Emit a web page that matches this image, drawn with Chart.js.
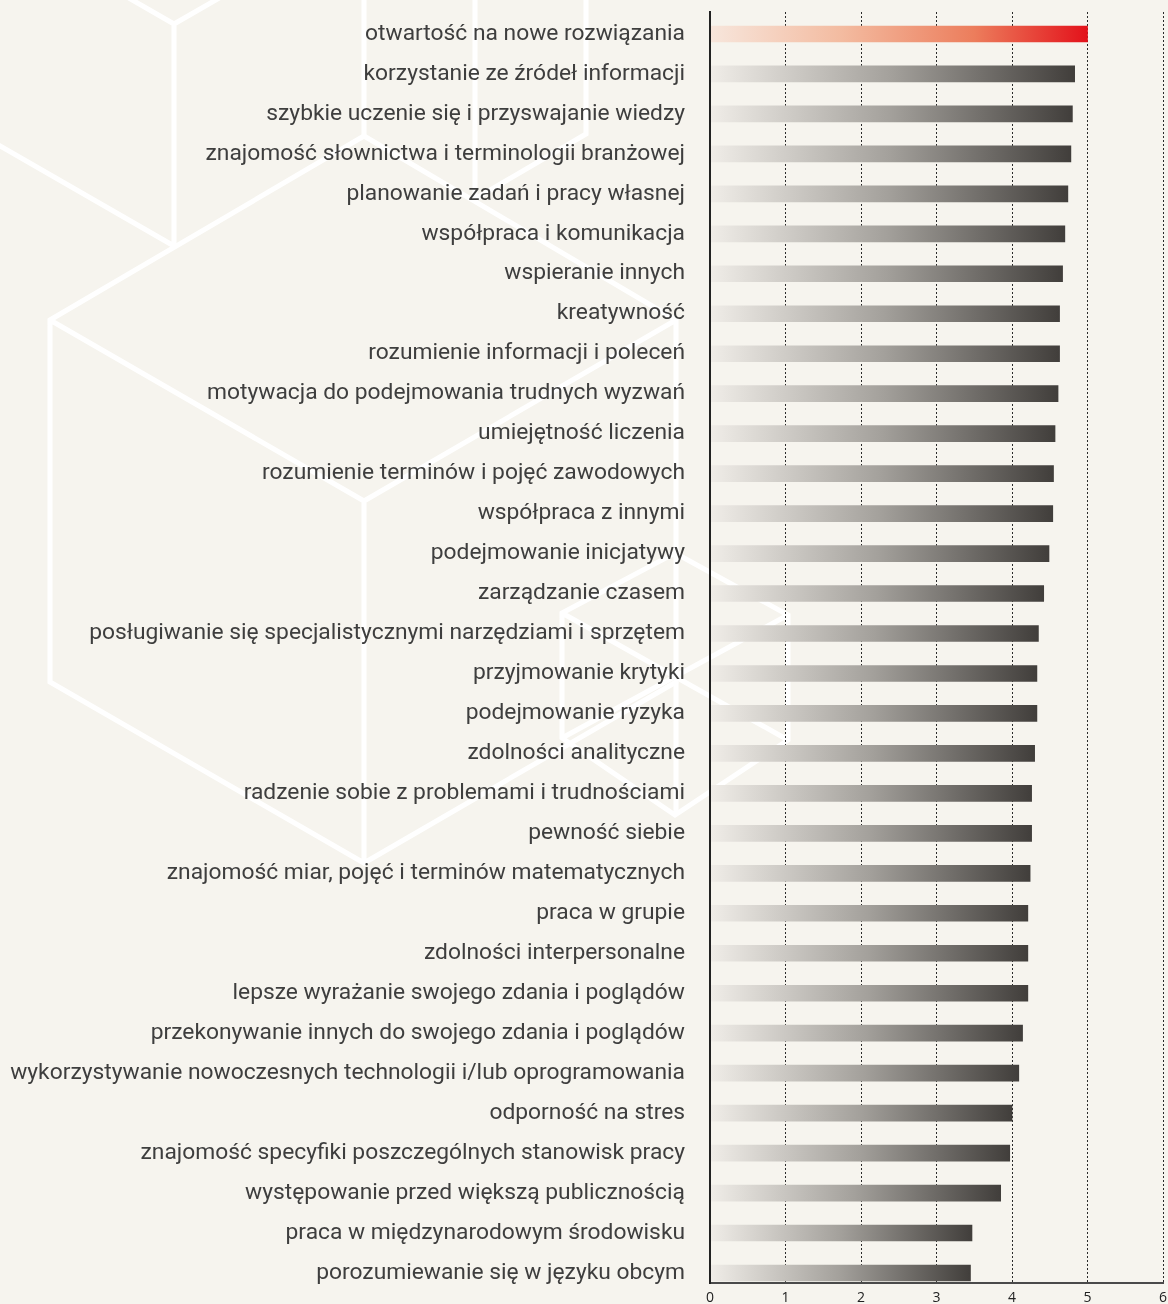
<!DOCTYPE html>
<html>
<head>
<meta charset="utf-8">
<script src="https://cdn.jsdelivr.net/npm/chart.js@4.4.1/dist/chart.umd.min.js"></script>
<style>
html,body{margin:0;padding:0;background:#f6f4ee;}
#wrap{position:relative;width:1168px;height:1304px;overflow:hidden;background:#f6f4ee;}
#bg{position:absolute;left:0;top:0;}
#box{position:absolute;left:0;top:0;width:1168px;height:1304px;}
</style>
</head>
<body>
<div id="wrap">
<svg id="bg" width="1168" height="1304" viewBox="0 0 1168 1304">
  <g stroke="#ffffff" stroke-width="5" fill="none" stroke-linejoin="miter">
    <path d="M174,24 L174,246 M174,24 L-19,-87 M174,24 L367,-87 M-19,135 L174,246 M364,0 L364,136"/>
    <path d="M475,0 L475,199 M586,0 L586,134 L475,199"/>
    <path d="M50,320 L364,136 L676,320 L676,682 L364,863 L50,682 Z M364,501 L50,320 M364,501 L676,320 M364,501 L364,863"/>
    <path d="M676,682 L676,815"/>
    <path d="M675,553 L788,615 L788,740 L675,815 L562,738 L562,613 Z M562,613 L788,740 M788,615 L562,738"/>
  </g>
</svg>
<div id="box"><canvas id="c"></canvas></div>
</div>
<script>
const categories = [
  'otwartość na nowe rozwiązania',
  'korzystanie ze źródeł informacji',
  'szybkie uczenie się i przyswajanie wiedzy',
  'znajomość słownictwa i terminologii branżowej',
  'planowanie zadań i pracy własnej',
  'współpraca i komunikacja',
  'wspieranie innych',
  'kreatywność',
  'rozumienie informacji i poleceń',
  'motywacja do podejmowania trudnych wyzwań',
  'umiejętność liczenia',
  'rozumienie terminów i pojęć zawodowych',
  'współpraca z innymi',
  'podejmowanie inicjatywy',
  'zarządzanie czasem',
  'posługiwanie się specjalistycznymi narzędziami i sprzętem',
  'przyjmowanie krytyki',
  'podejmowanie ryzyka',
  'zdolności analityczne',
  'radzenie sobie z problemami i trudnościami',
  'pewność siebie',
  'znajomość miar, pojęć i terminów matematycznych',
  'praca w grupie',
  'zdolności interpersonalne',
  'lepsze wyrażanie swojego zdania i poglądów',
  'przekonywanie innych do swojego zdania i poglądów',
  'wykorzystywanie nowoczesnych technologii i/lub oprogramowania',
  'odporność na stres',
  'znajomość specyfiki poszczególnych stanowisk pracy',
  'występowanie przed większą publicznością',
  'praca w międzynarodowym środowisku',
  'porozumiewanie się w języku obcym'
];
const values = [
  5.00, 4.83, 4.80, 4.78, 4.74, 4.70, 4.67, 4.63, 4.63, 4.61,
  4.57, 4.55, 4.54, 4.49, 4.42, 4.35, 4.33, 4.33, 4.30, 4.26,
  4.26, 4.24, 4.21, 4.21, 4.21, 4.14, 4.09, 4.00, 3.97, 3.85,
  3.47, 3.45
];
const xTicks = [0, 1, 2, 3, 4, 5, 6];
const highlighted = ['otwartość na nowe rozwiązania'];

const greyStops = [[0, '#f0ede8'], [0.5, '#a3a09b'], [1, '#413e3b']];
const redStops = [[0, '#f7e6dc'], [0.35, '#f3bba0'], [0.7, '#ec7d5c'], [1, '#e3121b']];

function barFill(ctx) {
  const chart = ctx.chart;
  if (!chart.chartArea || ctx.type !== 'data') return '#777';
  const xs = chart.scales.x;
  const i = ctx.dataIndex;
  const x0 = xs.getPixelForValue(0);
  const x1 = xs.getPixelForValue(values[i]);
  const g = chart.ctx.createLinearGradient(x0, 0, x1, 0);
  const stops = highlighted.includes(categories[i]) ? redStops : greyStops;
  stops.forEach(([o, c]) => g.addColorStop(o, c));
  return g;
}

function draw() {
  new Chart(document.getElementById('c'), {
    type: 'bar',
    data: {
      datasets: [{
        data: values.map((v, i) => ({ x: v, y: i })),
        backgroundColor: barFill,
        borderWidth: 0,
        barThickness: 16
      }]
    },
    options: {
      indexAxis: 'y',
      responsive: true,
      maintainAspectRatio: false,
      animation: false,
      layout: { padding: { top: 12, right: 5, bottom: 0, left: 0 } },
      plugins: { legend: { display: false }, tooltip: { enabled: false } },
      scales: {
        x: {
          type: 'linear',
          min: xTicks[0],
          max: xTicks[xTicks.length - 1],
          afterBuildTicks: s => { s.ticks = xTicks.map(v => ({ value: v })); },
          afterFit: s => { s.height = 21; s.paddingLeft = 0; s.paddingRight = 0; },
          grid: {
            drawTicks: false,
            lineWidth: 1,
            color: c => (c.tick && c.tick.value === 0) ? 'rgba(0,0,0,0)' : '#2a2a2a'
          },
          border: { display: true, color: '#4a4a4a', width: 2, dash: [2, 2] },
          ticks: {
            padding: 7,
            color: '#222',
            font: { family: '"Open Sans", "DejaVu Sans", sans-serif', size: 14 }
          }
        },
        y: {
          type: 'linear',
          reverse: true,
          offset: false,
          min: -0.55,
          max: 31.25,
          afterBuildTicks: s => { s.ticks = categories.map((c, i) => ({ value: i })); },
          afterFit: s => { s.width = 710; s.paddingTop = 0; s.paddingBottom = 0; },
          grid: { display: false, drawTicks: false, offset: false },
          border: { display: true, color: '#222', width: 2, z: 1 },
          ticks: {
            autoSkip: false,
            padding: 25,
            color: '#3e3e3e',
            font: { family: 'Roboto, sans-serif', size: 22.8 },
            callback: v => categories[v] !== undefined ? categories[v] : ''
          }
        }
      }
    }
  });
}

if (document.fonts && document.fonts.load) {
  Promise.all([
    document.fonts.load('20px Roboto'),
    document.fonts.load('13px "Open Sans"')
  ]).then(draw, draw);
} else {
  draw();
}
</script>
</body>
</html>
